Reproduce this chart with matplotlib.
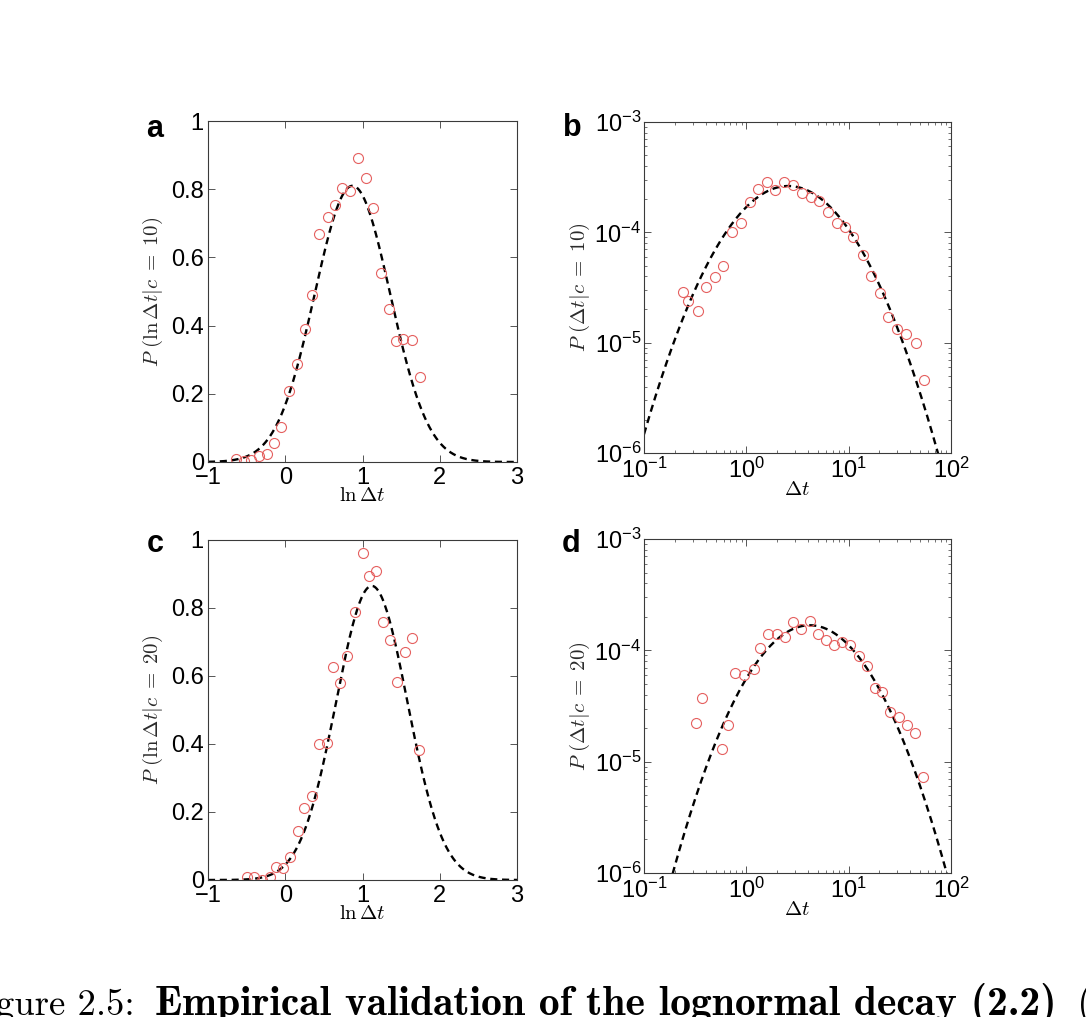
import numpy as np
import matplotlib
matplotlib.use("Agg")
import matplotlib.pyplot as plt
from matplotlib.ticker import LogLocator, NullFormatter

plt.rcParams['font.family'] = ['Liberation Sans', 'DejaVu Sans']
plt.rcParams['mathtext.fontset'] = 'custom'
plt.rcParams['mathtext.rm'] = 'Liberation Sans'
plt.rcParams['mathtext.it'] = 'Liberation Sans:italic'
plt.rcParams['mathtext.bf'] = 'Liberation Sans:bold'

# ---------------- data ----------------
# panel a: ln dt vs P(ln dt | c=10)
a_x = [-0.64, -0.54, -0.44, -0.34, -0.24, -0.14, -0.05, 0.05, 0.15, 0.25, 0.35, 0.44, 0.55,
       0.65, 0.74, 0.84, 0.94, 1.04, 1.14, 1.24, 1.34, 1.43, 1.53, 1.64, 1.74]
a_y = [0.008, 0.002, 0.007, 0.019, 0.022, 0.056, 0.103, 0.208, 0.288, 0.389, 0.491, 0.670, 0.718,
       0.755, 0.804, 0.794, 0.892, 0.832, 0.746, 0.553, 0.449, 0.354, 0.360, 0.359, 0.250]
a_fit = dict(amp=0.81, mu=0.87, sigma=0.49)

# panel b: dt vs P(dt | c=10)
b_x = [0.243, 0.268, 0.336, 0.405, 0.497, 0.586, 0.718, 0.887, 1.08, 1.31, 1.59, 1.92, 2.34,
       2.87, 3.49, 4.24, 5.16, 6.22, 7.63, 9.21, 11.1, 13.7, 16.6, 20.3, 24.5, 30.0, 36.5, 45.1, 54.0]
b_y = [2.90e-5, 2.39e-5, 1.95e-5, 3.22e-5, 3.96e-5, 4.95e-5, 9.98e-5, 1.22e-4, 1.87e-4, 2.48e-4,
       2.85e-4, 2.44e-4, 2.88e-4, 2.71e-4, 2.28e-4, 2.10e-4, 1.93e-4, 1.53e-4, 1.22e-4, 1.11e-4,
       9.0e-5, 6.22e-5, 4.02e-5, 2.80e-5, 1.72e-5, 1.34e-5, 1.20e-5, 9.89e-6, 4.55e-6]
b_fit = dict(amp=2.63e-4, mu=0.41, sigma=0.438)   # gaussian in log10(dt)

# panel c: ln dt vs P(ln dt | c=20)
c_x = [-0.50, -0.40, -0.30, -0.20, -0.12, -0.03, 0.06, 0.16, 0.24, 0.34, 0.44, 0.54, 0.62,
       0.71, 0.80, 0.90, 1.00, 1.08, 1.17, 1.27, 1.36, 1.45, 1.55, 1.64, 1.73]
c_y = [0.009, 0.010, 0.0, 0.010, 0.039, 0.034, 0.067, 0.144, 0.212, 0.248, 0.399, 0.404, 0.627,
       0.580, 0.659, 0.789, 0.961, 0.893, 0.908, 0.758, 0.706, 0.581, 0.670, 0.711, 0.382]
c_fit = dict(amp=0.865, mu=1.12, sigma=0.461)

# panel d: dt vs P(dt | c=20)
d_x = [0.324, 0.368, 0.574, 0.662, 0.780, 0.942, 1.19, 1.37, 1.64, 2.0, 2.39, 2.86, 3.45, 4.17,
       5.02, 5.97, 7.15, 8.56, 10.4, 12.6, 15.1, 18.0, 21.2, 25.2, 31.1, 37.3, 44.7, 53.5]
d_y = [2.22e-5, 3.73e-5, 1.29e-5, 2.15e-5, 6.28e-5, 5.98e-5, 6.83e-5, 1.04e-4, 1.41e-4, 1.39e-4,
       1.31e-4, 1.80e-4, 1.54e-4, 1.84e-4, 1.39e-4, 1.23e-4, 1.11e-4, 1.19e-4, 1.11e-4, 8.87e-5,
       7.21e-5, 4.60e-5, 4.20e-5, 2.79e-5, 2.52e-5, 2.12e-5, 1.81e-5, 7.24e-6]
d_fit = dict(amp=1.68e-4, mu=0.62, sigma=0.418)

lin_xticks = [-1, 0, 1, 2, 3]
lin_xticklabels = ['\u22121', '0', '1', '2', '3']
lin_yticks = [0, 0.2, 0.4, 0.6, 0.8, 1]
lin_yticklabels = ['0', '0.2', '0.4', '0.6', '0.8', '1']
log_xticks = [0.1, 1, 10, 100]
log_xticklabels = [r'$10^{-1}$', r'$10^{0}$', r'$10^{1}$', r'$10^{2}$']
log_yticks = [1e-6, 1e-5, 1e-4, 1e-3]
log_yticklabels = [r'$10^{-6}$', r'$10^{-5}$', r'$10^{-4}$', r'$10^{-3}$']

caption_label = 'Figure 2.5:'
caption_bold = 'Empirical validation of the lognormal decay (2.2)'
caption_tail = '('

# ---------------- figure ----------------
W, H = 1086, 1017
fig = plt.figure(figsize=(W / 100, H / 100), dpi=100)


def add_ax(l, t, r, b):
    return fig.add_axes([l / W, 1 - b / H, (r - l) / W, (b - t) / H])


MARK = dict(marker='o', ls='none', ms=7.2, mfc='none', mec='#e5605f', mew=0.8)
LINE = dict(color='black', lw=1.7, ls=(0, (3, 2)))
SPINE_C = '#3a3a3a'
TICK_FS = 17
LABEL_FS = 15


def style(ax, ypad):
    for s in ax.spines.values():
        s.set_color(SPINE_C)
        s.set_linewidth(0.8)
    ax.tick_params(which='both', direction='in', top=True, right=True,
                   color=SPINE_C, labelsize=TICK_FS)
    ax.tick_params(axis='x', which='major', pad=3.5)
    ax.tick_params(axis='y', which='major', pad=ypad)
    ax.tick_params(which='major', length=5, width=0.6)
    ax.tick_params(which='minor', length=2.5, width=0.5)


def gauss(x, p):
    return p['amp'] * np.exp(-(x - p['mu']) ** 2 / (2 * p['sigma'] ** 2))


def lin_panel(ax, xs, ys, fit, ylabel):
    xx = np.linspace(-1, 3, 400)
    ax.plot(xx, gauss(xx, fit), **LINE)
    ax.plot(xs, ys, **MARK)
    ax.set_xlim(-1, 3)
    ax.set_ylim(0, 1)
    ax.set_xticks(lin_xticks, lin_xticklabels)
    ax.set_yticks(lin_yticks, lin_yticklabels)
    style(ax, 3)
    ax.set_xlabel(r'$\ln\Delta t$', fontsize=LABEL_FS, math_fontfamily='cm', labelpad=-2)
    ax.set_ylabel(ylabel, fontsize=LABEL_FS, math_fontfamily='cm', labelpad=4, color='#2a2a2a')


def log_panel(ax, xs, ys, fit, ylabel):
    xx = np.logspace(-1, 2, 400)
    ax.plot(xx, gauss(np.log10(xx), fit), **LINE)
    ax.plot(xs, ys, **MARK)
    ax.set_xscale('log')
    ax.set_yscale('log')
    ax.set_xlim(0.1, 100)
    ax.set_ylim(1e-6, 1e-3)
    ax.set_xticks(log_xticks, log_xticklabels)
    ax.set_yticks(log_yticks, log_yticklabels)
    ax.xaxis.set_minor_locator(LogLocator(base=10, subs=np.arange(2, 10)))
    ax.yaxis.set_minor_locator(LogLocator(base=10, subs=np.arange(2, 10)))
    ax.xaxis.set_minor_formatter(NullFormatter())
    ax.yaxis.set_minor_formatter(NullFormatter())
    style(ax, 2)
    ax.set_xlabel(r'$\Delta t$', fontsize=LABEL_FS, math_fontfamily='cm', labelpad=-2)
    ax.set_ylabel(ylabel, fontsize=LABEL_FS, math_fontfamily='cm', labelpad=2, color='#2a2a2a')


ax_a = add_ax(208, 121, 517, 462)
ax_b = add_ax(644, 122, 951, 453)
ax_c = add_ax(208, 540, 517, 880)
ax_d = add_ax(644, 539, 951, 873)

lin_panel(ax_a, a_x, a_y, a_fit, r'$P\ (\ln\Delta t|c\;=\;10)$')
log_panel(ax_b, b_x, b_y, b_fit, r'$P\ (\Delta t|c\;=\;10)$')
lin_panel(ax_c, c_x, c_y, c_fit, r'$P\ (\ln\Delta t|c\;=\;20)$')
log_panel(ax_d, d_x, d_y, d_fit, r'$P\ (\Delta t|c\;=\;20)$')

for lab, (px, py) in zip('abcd', [(146, 137), (563, 136), (147, 552), (562, 552)]):
    fig.text(px / W, 1 - py / H, lab, fontsize=22, fontweight='bold',
             ha='left', va='baseline')

# caption (cut off at the figure edges, as in the reference)
cap_y = 1 - 1015 / H
renderer = fig.canvas.get_renderer()
t_bold = fig.text(155 / W, cap_y, caption_bold, family='cmb10', fontsize=22,
                  ha='left', va='baseline')
bw = t_bold.get_window_extent(renderer).width
cap_fs = 22 * 902 / bw
t_bold.set_fontsize(cap_fs)
fig.text(134 / W, cap_y, caption_label, family='cmr10', fontsize=cap_fs * 0.88,
         ha='right', va='baseline')
fig.text(1077 / W, cap_y, caption_tail, family='cmr10', fontsize=cap_fs,
         ha='left', va='baseline')

fig.savefig('out.png', dpi=100)
